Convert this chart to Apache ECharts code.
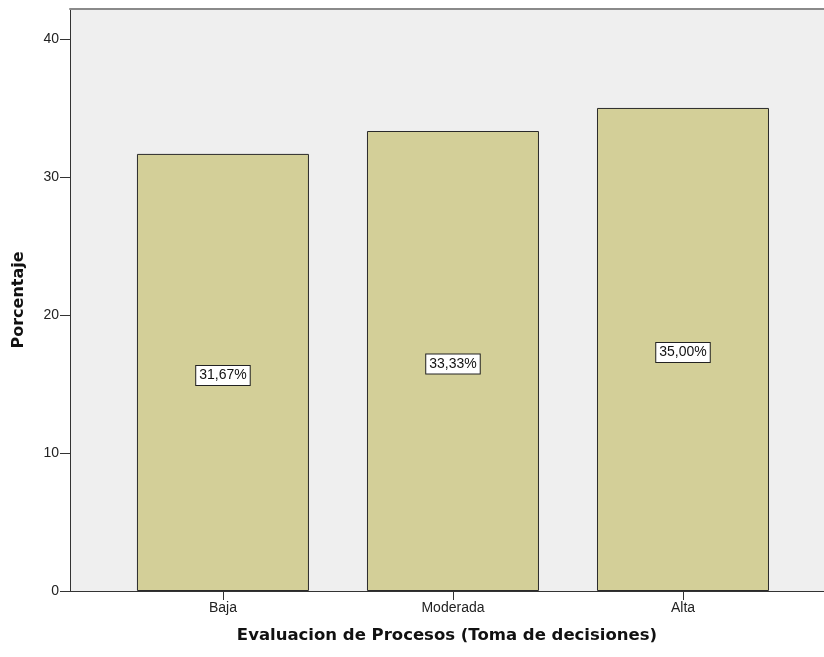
<!DOCTYPE html>
<html>
<head>
<meta charset="utf-8">
<script src="https://cdn.jsdelivr.net/npm/echarts@6/dist/echarts.min.js"></script>
<style>
html, body { margin: 0; padding: 0; background: #ffffff; }
#chart { width: 824px; height: 657px; }
</style>
</head>
<body>
<div id="chart"></div>
<script>
// Categories and their percentages
const categories = ['Baja', 'Moderada', 'Alta'];
const percentages = [31.67, 33.33, 35.00];
const yTicks = [0, 10, 20, 30, 40];
const categoryPositions = [1, 2, 3];

const FONT = '"Liberation Sans", Arial, sans-serif';
const TITLE_FONT = '"DejaVu Sans", Arial, sans-serif';

const chart = echarts.init(document.getElementById('chart'));

const xRange = { min: 0.335, max: 3.613 };

const option = {
  animation: false,
  grid: {
    left: 70, right: 0, top: 9, bottom: 66,
    show: true,
    backgroundColor: '#efefef',
    borderWidth: 0
  },
  xAxis: [{
    type: 'value',
    min: xRange.min,
    max: xRange.max,
    name: 'Evaluacion de Procesos (Toma de decisiones)',
    nameLocation: 'middle',
    nameGap: 36,
    nameTextStyle: { fontFamily: TITLE_FONT, fontSize: 16.5, fontWeight: 'bold', color: '#111' },
    splitLine: { show: false },
    axisLine: { show: true, lineStyle: { color: '#333', width: 1 } },
    axisTick: { show: true, length: 9, customValues: categoryPositions, lineStyle: { color: '#333' } },
    axisLabel: {
      customValues: categoryPositions,
      formatter: v => categories[Math.round(v) - 1] || '',
      fontFamily: FONT, fontSize: 14, color: '#222', margin: 10
    }
  }, {
    // top frame line of the plot area
    type: 'value',
    position: 'top',
    min: xRange.min,
    max: xRange.max,
    splitLine: { show: false },
    axisLine: { show: true, lineStyle: { color: '#8a8a8a', width: 2 } },
    axisTick: { show: false },
    axisLabel: { show: false }
  }],
  yAxis: {
    type: 'value',
    min: 0,
    max: 42.17,
    name: 'Porcentaje',
    nameLocation: 'middle',
    nameGap: 43,
    nameRotate: 90,
    nameTextStyle: { fontFamily: TITLE_FONT, fontSize: 16, fontWeight: 'bold', color: '#111' },
    splitLine: { show: false },
    axisLine: { show: true, lineStyle: { color: '#333', width: 1 } },
    axisTick: { show: true, length: 10, customValues: yTicks, lineStyle: { color: '#333' } },
    axisLabel: {
      customValues: yTicks,
      fontFamily: FONT, fontSize: 14, color: '#222', margin: 11
    }
  },
  series: [{
    type: 'bar',
    barWidth: 172,
    data: categoryPositions.map((x, i) => [x, percentages[i]]),
    itemStyle: { color: '#d3cf98', borderColor: '#2a2a2a', borderWidth: 1 },
    label: {
      show: true,
      position: 'inside',
      offset: [0, 3],
      formatter: p => percentages[p.dataIndex].toFixed(2).replace('.', ',') + '%',
      fontFamily: FONT,
      fontSize: 14,
      color: '#111',
      backgroundColor: '#ffffff',
      borderColor: '#222',
      borderWidth: 1,
      padding: [3, 3, 2, 3]
    }
  }]
};

chart.setOption(option);
</script>
</body>
</html>
